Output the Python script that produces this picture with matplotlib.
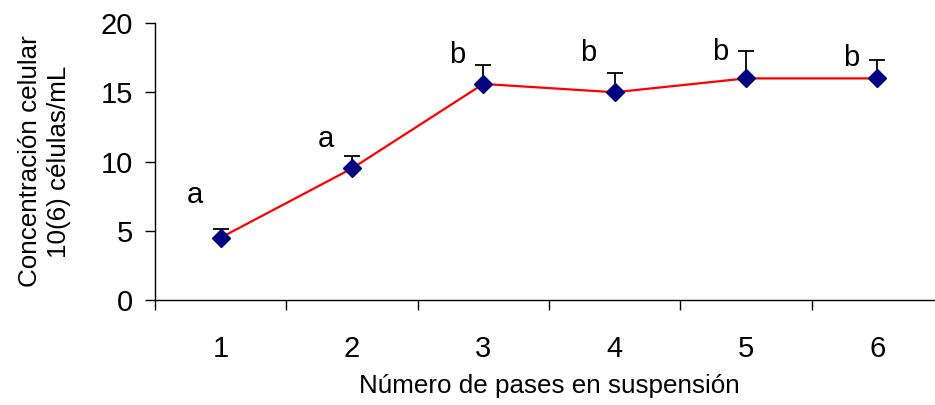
import numpy as np
import matplotlib.pyplot as plt

plt.rcParams['font.family'] = ['Liberation Sans', 'DejaVu Sans']

pases = [1, 2, 3, 4, 5, 6]
concentracion = [4.5, 9.5, 15.6, 15.0, 16.0, 16.0]
error_sup = [0.6, 0.9, 1.4, 1.4, 2.0, 1.3]
letras = ['a', 'a', 'b', 'b', 'b', 'b']
altura_letra = [7.6, 11.6, 17.7, 17.8, 17.9, 17.5]

fig = plt.figure(figsize=(9.35, 4.05), dpi=100)
ax = fig.add_axes([155/935, 105/405, 788/935, 277/405])

x = np.array(pases)
ax.errorbar(x, concentracion, yerr=[np.zeros(len(x)), error_sup], fmt='none',
            ecolor='black', elinewidth=1.3, capsize=5.8, capthick=1.3, zorder=2)
ax.plot(x, concentracion, color='#ff0000', lw=1.6, zorder=3)
ax.plot(x, concentracion, ls='none', marker='D', ms=9, color='#000080', zorder=4)

for xi, l, h in zip(x, letras, altura_letra):
    ax.text(xi - 0.2, h, l, fontsize=21, ha='center', va='center')

ax.set_xlim(0.5, 6.5)
ax.set_ylim(0, 20)
ax.set_yticks([0, 5, 10, 15, 20])
ax.set_xticks(pases)
ax.set_xticks(np.arange(0.5, 7, 1), minor=True)
ax.tick_params(axis='x', which='major', length=0, pad=25, labelsize=21)
ax.tick_params(axis='x', which='minor', length=7, width=1, direction='out')
ax.tick_params(axis='y', length=7, width=1, direction='out', pad=9, labelsize=21)

for s in ['top', 'right']:
    ax.spines[s].set_visible(False)
for s in ['left', 'bottom']:
    ax.spines[s].set_linewidth(1.0)

ax.set_xlabel('Número de pases en suspensión', fontsize=18.7, labelpad=8)
ax.set_ylabel('Concentración celular\n10(6) células/mL', fontsize=18.7,
              linespacing=1.3, labelpad=21)

fig.savefig('out.png', dpi=100)
